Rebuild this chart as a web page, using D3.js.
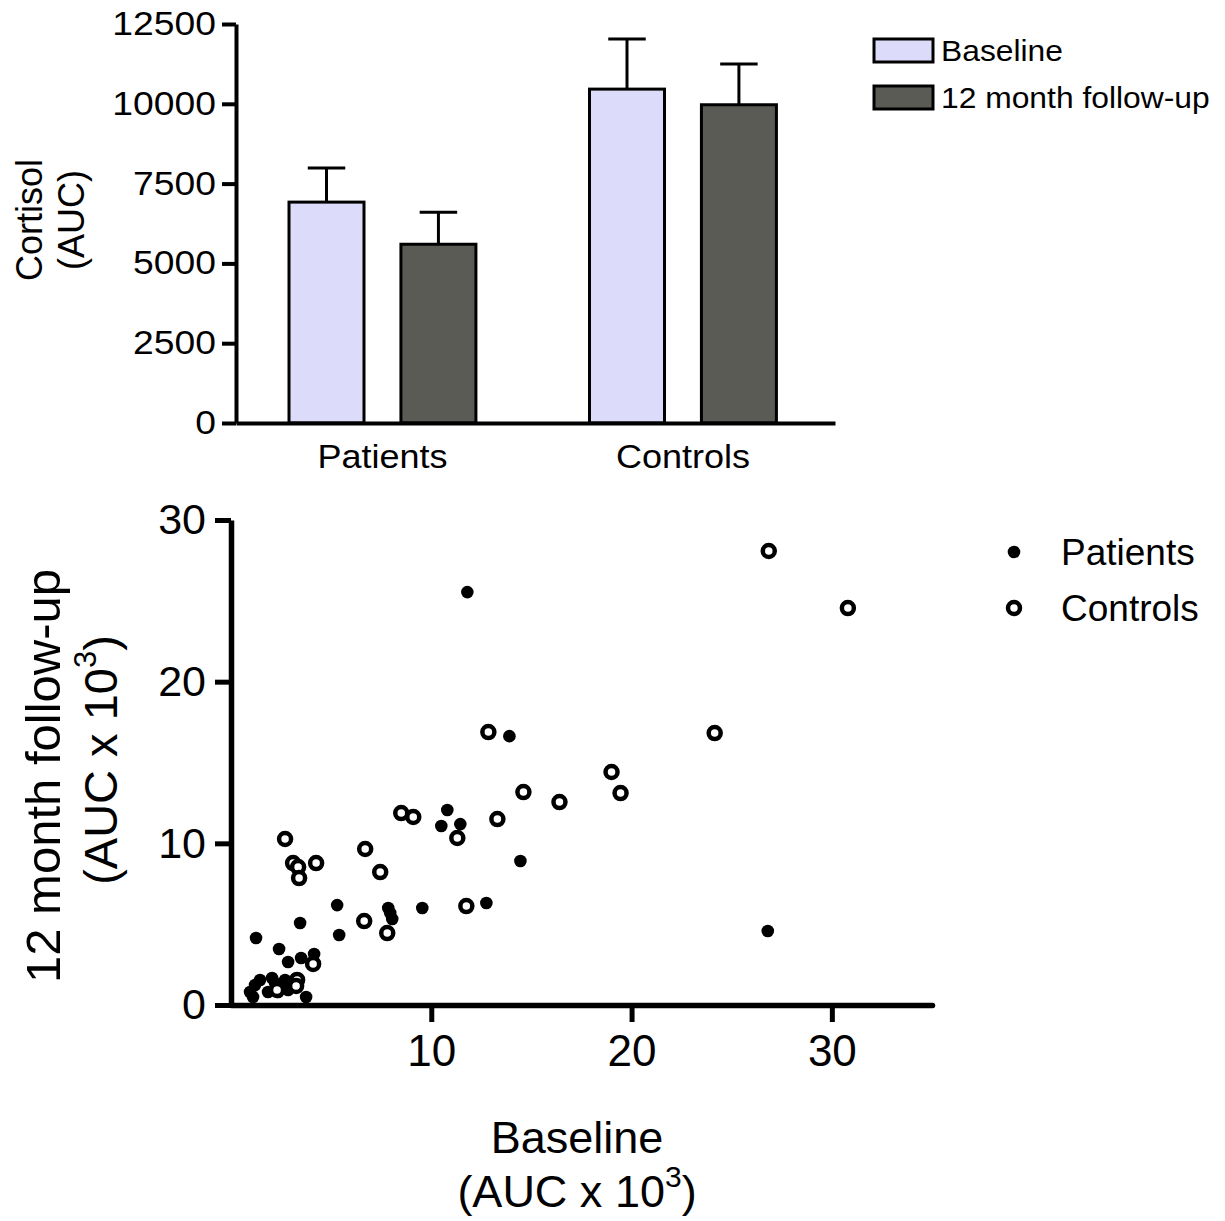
<!DOCTYPE html>
<html>
<head>
<meta charset="utf-8">
<script src="https://cdn.jsdelivr.net/npm/d3@7"></script>
<style>
  html, body { margin: 0; padding: 0; background: #fff; }
  svg text { font-family: "Liberation Sans", Arial, sans-serif; fill: #000; }
</style>
</head>
<body>
<svg id="chart" width="1225" height="1221"></svg>
<script>
// ---------- Data: top bar chart ----------
const groups = ["Patients", "Controls"];
const series = ["Baseline", "12 month follow-up"];
const baselineMean = [6920, 10460];
const baselineSem  = [1070, 1570];
const followMean   = [5600, 9970];
const followSem    = [1000, 1280];
const barTicks = [0, 2500, 5000, 7500, 10000, 12500];
const seriesColors = ["#dcdcfa", "#5a5b55"];

// ---------- Data: bottom scatter (AUC x 10^3) ----------
const patientsX = [11.8, 13.9, 10.8, 11.45, 10.5, 14.45, 12.75, 9.55, 7.85, 7.95, 8.05, 5.3, 5.4, 3.45, 26.8,
                   1.25, 2.4, 2.85, 3.5, 4.15, 3.75, 0.95, 1.2, 1.45, 2.05, 2.2, 2.7, 1.85, 2.35, 2.85, 1.1];
const patientsY = [25.54, 16.63, 12.06, 11.19, 11.07, 8.91, 6.31, 6.0, 6.0, 5.69, 5.32, 6.18, 4.33, 5.07, 4.58,
                   4.14, 3.46, 2.66, 2.91, 3.15, 0.49, 0.8, 1.24, 1.55, 1.67, 1.36, 1.55, 0.8, 0.8, 0.93, 0.49];
const controlsX = [26.85, 30.8, 24.15, 12.85, 19.0, 19.45, 14.6, 16.4, 8.5, 9.1, 11.3, 13.3, 2.7, 6.7, 3.1,
                   3.35, 4.25, 3.4, 7.45, 11.75, 6.65, 7.8, 4.1, 3.3, 3.25, 2.3];
const controlsY = [28.08, 24.55, 16.82, 16.88, 14.41, 13.11, 13.17, 12.55, 11.87, 11.63, 10.33, 11.5, 10.27, 9.65, 8.78,
                   8.53, 8.78, 7.85, 8.22, 6.12, 5.19, 4.45, 2.54, 1.55, 1.18, 0.93];
const scatterXTicks = [10, 20, 30];
const scatterYTicks = [0, 10, 20, 30];
const scatterSeries = ["Patients", "Controls"];

const svg = d3.select("#chart");
const FONT = '"Liberation Sans", Arial, sans-serif';

// ================= TOP: grouped bar chart =================
const gTop = svg.append("g");
const yTop = d3.scaleLinear().domain([0, 12500]).range([423, 24]);
const x0 = d3.scaleBand().domain(groups).range([236, 835])
  .paddingInner(0.378).paddingOuter(0.1857).align(0.475);
const x1 = d3.scaleBand().domain(series).range([0, x0.bandwidth()])
  .paddingInner(0.33).paddingOuter(0);

const barData = [];
groups.forEach((g, i) => {
  barData.push({ group: g, s: series[0], v: baselineMean[i], e: baselineSem[i], c: seriesColors[0] });
  barData.push({ group: g, s: series[1], v: followMean[i], e: followSem[i], c: seriesColors[1] });
});

// error bars
const eb = gTop.append("g").attr("stroke", "#000").attr("stroke-width", 3);
barData.forEach(d => {
  const cx = x0(d.group) + x1(d.s) + x1.bandwidth() / 2;
  const capHalf = x1.bandwidth() / 4;
  eb.append("line").attr("x1", cx).attr("x2", cx).attr("y1", yTop(d.v)).attr("y2", yTop(d.v + d.e));
  eb.append("line").attr("x1", cx - capHalf).attr("x2", cx + capHalf)
    .attr("y1", yTop(d.v + d.e)).attr("y2", yTop(d.v + d.e));
});

gTop.append("g").selectAll("rect").data(barData).join("rect")
  .attr("x", d => x0(d.group) + x1(d.s))
  .attr("y", d => yTop(d.v))
  .attr("width", x1.bandwidth())
  .attr("height", d => yTop(0) - yTop(d.v))
  .attr("fill", d => d.c)
  .attr("stroke", "#000")
  .attr("stroke-width", 3);

// y axis
const yAxTop = gTop.append("g").attr("transform", "translate(236,0)")
  .call(d3.axisLeft(yTop).tickValues(barTicks).tickFormat(d3.format("d")).tickSize(14).tickSizeOuter(0).tickPadding(6));
yAxTop.select(".domain").attr("stroke-width", 4).attr("stroke", "#000");
yAxTop.selectAll(".tick line").attr("stroke-width", 4).attr("stroke", "#000");
yAxTop.selectAll(".tick text")
  .attr("font-family", FONT).attr("font-size", 33).attr("fill", "#000")
  .each(function () {
    const t = d3.select(this);
    const xx = +t.attr("x");
    t.attr("x", 0).attr("transform", `translate(${xx},0) scale(1.13,1)`);
  });

// x axis baseline + labels
const xAxTop = gTop.append("g").attr("transform", `translate(0,${yTop(0)})`)
  .call(d3.axisBottom(x0).tickSize(0).tickSizeOuter(0).tickPadding(21));
xAxTop.select(".domain").attr("stroke-width", 4).attr("stroke", "#000");
xAxTop.selectAll(".tick text")
  .attr("font-family", FONT).attr("font-size", 34).attr("fill", "#000")
  .each(function () {
    const t = d3.select(this);
    const yy = +t.attr("y");
    t.attr("y", 0).attr("transform", `translate(0,${yy}) scale(1.06,1)`);
  });

// y title
gTop.append("text")
  .attr("transform", "translate(42,220) rotate(-90)")
  .attr("text-anchor", "middle").attr("font-size", 36)
  .text("Cortisol");
gTop.append("text")
  .attr("transform", "translate(84,220) rotate(-90)")
  .attr("text-anchor", "middle").attr("font-size", 36)
  .text("(AUC)");

// legend
const legTop = gTop.append("g");
series.forEach((s, i) => {
  const gy = 39 + i * 47;
  legTop.append("rect").attr("x", 874).attr("y", gy).attr("width", 59).attr("height", 23)
    .attr("fill", seriesColors[i]).attr("stroke", "#000").attr("stroke-width", 3);
  legTop.append("text")
    .attr("transform", `translate(941,${gy + 22}) scale(1.06,1)`)
    .attr("font-size", 30).text(s);
});

// ================= BOTTOM: scatter =================
const gBot = svg.append("g");
const xS = d3.scaleLinear().domain([0, 35]).range([231, 932]);
const yS = d3.scaleLinear().domain([0, 30]).range([1005, 520]);

const yAxBot = gBot.append("g").attr("transform", "translate(231,0)")
  .call(d3.axisLeft(yS).tickValues(scatterYTicks).tickSize(16).tickSizeOuter(0).tickPadding(9));
yAxBot.select(".domain").attr("stroke-width", 5.5).attr("stroke", "#000");
yAxBot.selectAll(".tick line").attr("stroke-width", 5).attr("stroke", "#000");
yAxBot.selectAll(".tick text").attr("font-family", FONT).attr("font-size", 43).attr("fill", "#000");

const xAxBot = gBot.append("g").attr("transform", "translate(0,1005)")
  .call(d3.axisBottom(xS).tickValues(scatterXTicks).tickSize(17).tickSizeOuter(0).tickPadding(13));
xAxBot.select(".domain").attr("stroke-width", 5.5).attr("stroke", "#000").attr("stroke-linecap", "round");
xAxBot.selectAll(".tick line").attr("stroke-width", 5).attr("stroke", "#000");
xAxBot.selectAll(".tick text").attr("font-family", FONT).attr("font-size", 44).attr("fill", "#000");

// points
const pts = gBot.append("g");
pts.selectAll("circle.p").data(patientsX.map((x, i) => [x, patientsY[i]])).join("circle")
  .attr("class", "p")
  .attr("cx", d => xS(d[0])).attr("cy", d => yS(d[1])).attr("r", 6.3)
  .attr("fill", "#000");
pts.selectAll("circle.c").data(controlsX.map((x, i) => [x, controlsY[i]])).join("circle")
  .attr("class", "c")
  .attr("cx", d => xS(d[0])).attr("cy", d => yS(d[1])).attr("r", 6)
  .attr("fill", "#fff").attr("stroke", "#000").attr("stroke-width", 4.5);

// legend
const legBot = gBot.append("g");
legBot.append("circle").attr("cx", 1014).attr("cy", 552).attr("r", 6.3).attr("fill", "#000");
legBot.append("circle").attr("cx", 1014).attr("cy", 608).attr("r", 6)
  .attr("fill", "#fff").attr("stroke", "#000").attr("stroke-width", 4.5);
scatterSeries.forEach((s, i) => {
  legBot.append("text").attr("x", 1061).attr("y", 552 + i * 56).attr("dy", "0.36em")
    .attr("font-size", 37).text(s);
});

// x title
gBot.append("text").attr("x", 577).attr("y", 1153).attr("text-anchor", "middle")
  .attr("font-size", 45).text("Baseline");
const xt2 = gBot.append("text").attr("x", 577).attr("y", 1207).attr("text-anchor", "middle")
  .attr("font-size", 45);
xt2.append("tspan").text("(AUC x 10");
xt2.append("tspan").attr("font-size", 30).attr("dy", -20).text("3");
xt2.append("tspan").attr("dy", 20).text(")");

// y title
gBot.append("text").attr("transform", "translate(60,776) rotate(-90)")
  .attr("text-anchor", "middle").attr("font-size", 49).text("12 month follow-up");
const yt2 = gBot.append("text").attr("transform", "translate(117,760) rotate(-90)")
  .attr("text-anchor", "middle").attr("font-size", 47);
yt2.append("tspan").text("(AUC x 10");
yt2.append("tspan").attr("font-size", 31).attr("dy", -21).text("3");
yt2.append("tspan").attr("dy", 21).text(")");
</script>
</body>
</html>
